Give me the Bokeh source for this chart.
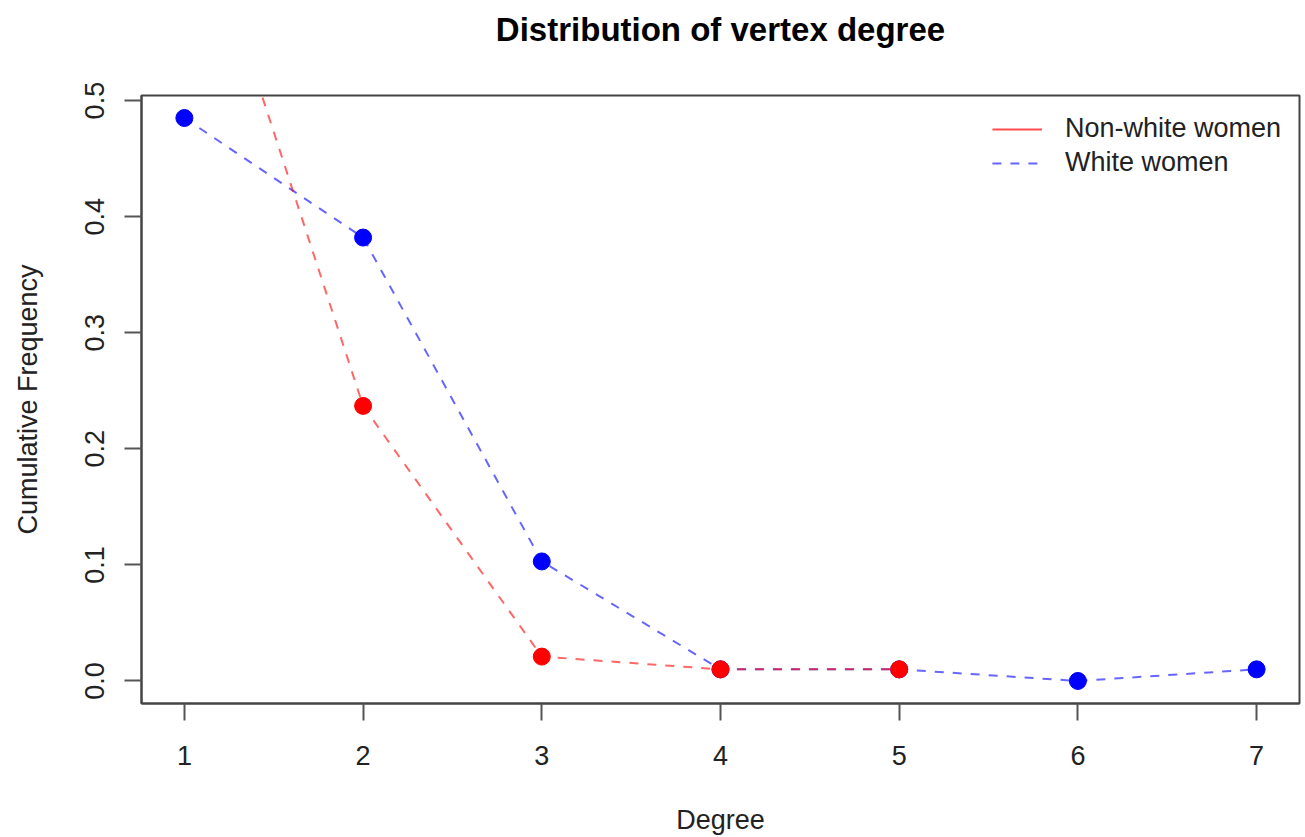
from bokeh.plotting import figure
from bokeh.models import FixedTicker, PrintfTickFormatter, Legend, LegendItem, Range1d, Title
from bokeh.embed import file_html
from bokeh.resources import INLINE

# Degree distribution for the two groups
degree_white = [1, 2, 3, 4, 5, 6, 7]
freq_white = [0.485, 0.382, 0.103, 0.010, 0.010, 0.000, 0.010]
degree_nonwhite = [1, 2, 3, 4, 5]
freq_nonwhite = [0.709, 0.237, 0.021, 0.010, 0.010]

x_ticks = [1, 2, 3, 4, 5, 6, 7]
y_ticks = [0.0, 0.1, 0.2, 0.3, 0.4, 0.5]

FONT = "Liberation Sans"
BASE = "27px"

p = figure(
    width=1305, height=837,
    x_range=Range1d(0.76, 7.24), y_range=Range1d(-0.0194, 0.5044),
    output_backend="svg", toolbar_location=None,
    min_border_left=141, min_border_right=6,
    min_border_top=95, min_border_bottom=134,
)
p.title = None

# blank gap between the plot area and the main title
p.add_layout(Title(text=" ", text_font_size="1px", standoff=40), "above")
p.add_layout(Title(text="Distribution of vertex degree", align="center",
                   text_font=FONT, text_font_size="33px", text_font_style="bold",
                   text_color="black", standoff=10), "above")

p.grid.visible = False
p.outline_line_color = "#444444"
p.outline_line_width = 2
p.background_fill_color = "white"
p.border_fill_color = "white"

for ax in (p.xaxis[0], p.yaxis[0]):
    ax.axis_line_color = "#444444"
    ax.axis_line_width = 2
    ax.major_tick_in = 0
    ax.major_tick_out = 17
    ax.major_tick_line_color = "#555555"
    ax.major_tick_line_width = 2
    ax.minor_tick_line_color = None
    ax.major_label_text_font = FONT
    ax.major_label_text_font_size = BASE
    ax.major_label_text_color = "#222222"
    ax.axis_label_text_font = FONT
    ax.axis_label_text_font_size = BASE
    ax.axis_label_text_font_style = "normal"
    ax.axis_label_text_color = "#222222"

p.xaxis.ticker = FixedTicker(ticks=x_ticks)
p.xaxis.formatter = PrintfTickFormatter(format="%d")
p.xaxis.axis_label = "Degree"
p.xaxis.major_label_standoff = 25
p.xaxis.axis_label_standoff = 37

p.yaxis.ticker = FixedTicker(ticks=y_ticks)
p.yaxis.formatter = PrintfTickFormatter(format="%.1f")
p.yaxis.major_label_orientation = "vertical"
p.yaxis.axis_label = "Cumulative Frequency"
p.yaxis.major_label_standoff = 20
p.yaxis.axis_label_standoff = 40

DASH = "9 9"

white_line = p.line(degree_white, freq_white, line_color="blue", line_alpha=0.6,
                    line_width=2, line_dash=DASH)
p.scatter(degree_white, freq_white, size=17, color="blue")

p.line(degree_nonwhite, freq_nonwhite, line_color="red", line_alpha=0.6,
       line_width=2, line_dash=DASH)
p.scatter(degree_nonwhite, freq_nonwhite, size=17, color="red")

# legend key for the non-white series is drawn as a solid line (no visible data)
nan = float("nan")
nonwhite_key = p.line([nan], [nan], line_color="red", line_alpha=0.7, line_width=2)

legend = Legend(
    items=[LegendItem(label="Non-white women", renderers=[nonwhite_key]),
           LegendItem(label="White women", renderers=[white_line])],
    location="top_right",
    border_line_alpha=0, background_fill_alpha=0,
    margin=0, padding=18, spacing=3,
    glyph_width=50, glyph_height=30, label_height=30,
    label_standoff=23,
    label_text_font=FONT, label_text_font_size=BASE, label_text_color="#222222",
)
p.add_layout(legend)

open("out.html", "w").write(file_html(p, INLINE))
